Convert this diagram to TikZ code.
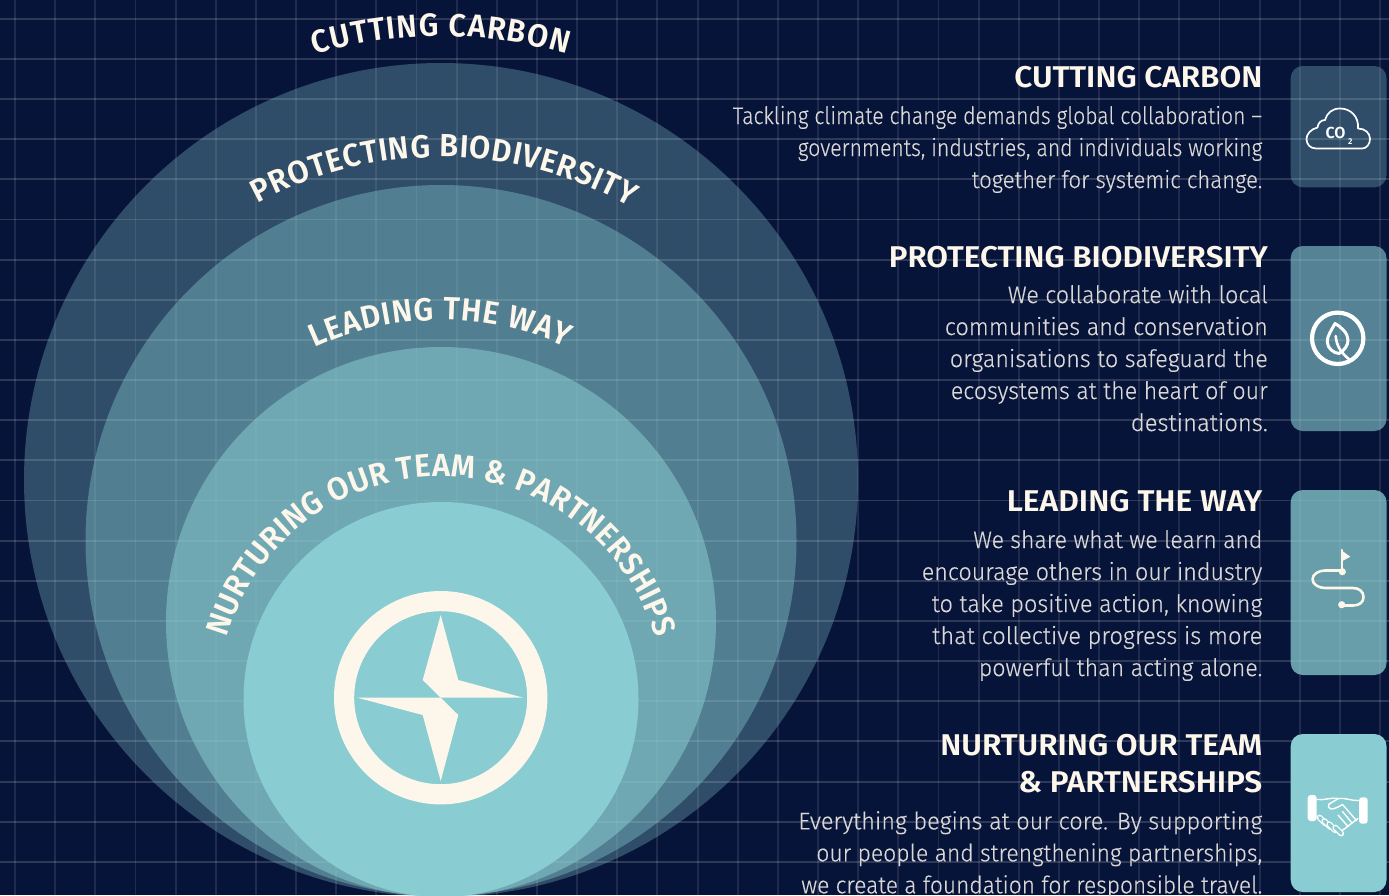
\documentclass[tikz,border=0pt]{standalone}
\usepackage{fontspec}
\usepackage{graphicx}
\usetikzlibrary{decorations.text}
\setmainfont{Fira Sans Light}[FakeBold=0.35]
\newfontfamily\headf{Fira Sans SemiBold}
\newfontfamily\arcf{Fira Sans SemiBold}[FakeStretch=0.96]
\newfontfamily\coflabel{Fira Sans SemiBold}
\definecolor{bg}{HTML}{071439}
\definecolor{cream}{HTML}{FDF6EB}
\definecolor{bodyc}{HTML}{DAD8D6}
\definecolor{teal}{HTML}{89CCD1}
\newsavebox\fitbox
\newcommand\fitw[2]{\sbox\fitbox{#2}\pgfmathsetmacro\fitr{#1/\the\wd\fitbox}\scalebox{\fitr}[1]{\usebox\fitbox}}
\tikzset{
  gridh/.style={white,opacity=.16,line width=1.9pt},
  gridv/.style={white,opacity=.10,line width=1.9pt},
  ringa/.style={fill=teal,fill opacity=.31},
  ringb/.style={fill=teal,fill opacity=.39},
  ringc/.style={fill=teal,fill opacity=.54},
  ringd/.style={fill=teal},
  panel/.style={rounded corners=12pt},
  headline/.style={anchor=base east,inner sep=0pt,text=cream,font=\headf\fontsize{30}{30}\selectfont},
  bodyline/.style={anchor=base east,inner sep=0pt,text=bodyc,font=\fontsize{24}{24}\selectfont},
  arclabel/.style={decorate},
  iconw/.style={draw=white,line cap=round,line join=round},
  iconc/.style={draw=cream,line cap=round,line join=round},
}
\begin{document}
\begin{tikzpicture}[x=1pt,y=-1pt]
\useasboundingbox (0,0) rectangle (1389,895);
\clip (0,0) rectangle (1389,895);
\fill[bg] (0,0) rectangle (1389,895);
% grid
\foreach \k in {0,...,34}{\draw[gridv] ({15+40.15*\k},0) -- ({15+40.15*\k},895);}
\foreach \k in {0,...,21}{\draw[gridh] (0,{18.7+40.15*\k}) -- (1389,{18.7+40.15*\k});}
% circles
\path[ringa] (441,480) circle[radius=417];
\path[ringb] (441,540.5) circle[radius=355.5];
\path[ringc] (441,622) circle[radius=275];
\path[ringd] (441,699.5) circle[radius=197.5];
% compass
\fill[cream,even odd rule] (440.7,697.7) circle[radius=106.7] (440.7,697.7) circle[radius=86.5];
\fill[cream] (440.7,615) -- (458.3,680) -- (523.3,697.7) -- (440.7,697.7) -- (422.7,680) -- cycle;
\fill[cream] (357.3,697.7) -- (440.7,697.7) -- (458.3,715) -- (440.7,781) -- (422.7,715) -- cycle;
% curved labels
\path[arclabel,decoration={text along path,text align=fit to path,text={|\arcf\fontsize{32}{32}\selectfont\color{cream}|CUTTING CARBON}}]
  (441,480) ++(-90-16.5:444) arc[start angle=-90-16.5,end angle=-90+16.5,radius=444];
\path[arclabel,decoration={text along path,text align=fit to path,text={|\arcf\fontsize{32}{32}\selectfont\color{cream}|PROTECTING BIODIVERSITY}}]
  (441,540.5) ++(-90-28.5:383.5) arc[start angle=-90-28.5,end angle=-90+29.5,radius=383.5];
\path[arclabel,decoration={text along path,text align=fit to path,text={|\arcf\fontsize{32}{32}\selectfont\color{cream}|LEADING THE WAY}}]
  (441,622) ++(-90-24.7:302) arc[start angle=-90-24.7,end angle=-90+24.5,radius=302];
\path[arclabel,decoration={text along path,text align=fit to path,text={|\arcf\fontsize{32}{32}\selectfont\color{cream}|NURTURING OUR TEAM {\&} PARTNERSHIPS}}]
  (441,699.5) ++(-90-74:223) arc[start angle=-90-74,end angle=-90+74,radius=223];
% panels
\path[ringa,panel] (1290.7,66) rectangle (1386.5,187.3);
\path[fill=teal,fill opacity=.60,panel] (1290.7,246) rectangle (1386.5,431);
\path[fill=teal,fill opacity=.75,panel] (1290.7,490) rectangle (1386.5,675);
\path[ringd,panel] (1290.7,734) rectangle (1386.5,892);
% text 1
\node[headline] (h1) at (1262.5,87.3) {\fitw{248}{CUTTING CARBON}};
\node[bodyline] (b11) at (1262.5,124) {\fitw{529.5}{Tackling climate change demands global collaboration –}};
\node[bodyline] (b12) at (1262.5,156) {\fitw{464.5}{governments, industries, and individuals working}};
\node[bodyline] (b13) at (1262.5,188) {\fitw{290.5}{together for systemic change.}};
% text 2
\node[headline] (h2) at (1268,267.7) {\fitw{379}{PROTECTING BIODIVERSITY}};
\node[bodyline] (b21) at (1268,303) {\fitw{260}{We collaborate with local}};
\node[bodyline] (b22) at (1268,335) {\fitw{323}{communities and conservation}};
\node[bodyline] (b23) at (1268,367) {\fitw{318}{organisations to safeguard the}};
\node[bodyline] (b24) at (1268,399) {\fitw{317}{ecosystems at the heart of our}};
\node[bodyline] (b25) at (1268,431) {\fitw{137}{destinations.}};
% text 3
\node[headline] (h3) at (1262.5,511.7) {\fitw{255.5}{LEADING THE WAY}};
\node[bodyline] (b31) at (1262.5,548) {\fitw{289}{We share what we learn and}};
\node[bodyline] (b32) at (1262.5,580) {\fitw{340.5}{encourage others in our industry}};
\node[bodyline] (b33) at (1262.5,612) {\fitw{330.5}{to take positive action, knowing}};
\node[bodyline] (b34) at (1262.5,644) {\fitw{330}{that collective progress is more}};
\node[bodyline] (b35) at (1262.5,676) {\fitw{283.5}{powerful than acting alone.}};
% text 4
\node[headline] (h4a) at (1262.5,755.3) {\fitw{322}{NURTURING OUR TEAM}};
\node[headline] (h4b) at (1262.5,792.7) {\fitw{244}{\& PARTNERSHIPS}};
\node[bodyline] (b41) at (1262.5,829.3) {\fitw{464}{Everything begins at our core. By supporting}};
\node[bodyline] (b42) at (1262.5,861.3) {\fitw{446}{our people and strengthening partnerships,}};
\node[bodyline] (b43) at (1262.5,893.3) {\fitw{461}{we create a foundation for responsible travel.}};
% cloud icon
\draw[iconw,line width=1.7pt] (1316,148.5) -- (1362,148.5)
  .. controls (1367,148.5) and (1370,143.5) .. (1370,139)
  .. controls (1370,133) and (1365,128.5) .. (1358,128.5)
  .. controls (1359,117) and (1351,108.5) .. (1340,108.5)
  .. controls (1332,108.5) and (1327,113) .. (1325,120)
  .. controls (1321,120) and (1318,123) .. (1317.5,127.5)
  .. controls (1311,129) and (1306.5,134) .. (1306.5,139)
  .. controls (1306.5,144) and (1310,148.5) .. (1316,148.5);
\node[anchor=base,inner sep=0pt,text=white,font=\coflabel\fontsize{16}{16}\selectfont] (co) at (1335.5,138.5) {\fitw{20}{CO}};
\node[anchor=base,inner sep=0pt,text=white,font=\coflabel\fontsize{8.5}{8.5}\selectfont] (two) at (1350.3,144) {2};
% leaf icon
\draw[white,line width=4.2pt] (1337.7,338.3) circle[radius=25.7];
\draw[iconw,line width=3pt] (1335,323.5)
  .. controls (1331,331) and (1327,336) .. (1327.3,342)
  .. controls (1327.5,348) and (1333,353) .. (1339,353.5)
  .. controls (1345,350) and (1348,345) .. (1348,340)
  .. controls (1348,333) and (1341,327) .. (1335,323.5) -- cycle;
\draw[iconw,line width=2.6pt] (1335.7,336) .. controls (1336.5,346) and (1341,353) .. (1350,360);
% route icon
\fill[cream] (1341,550) -- (1350.3,556.7) -- (1342.5,561) -- cycle;
\draw[iconc,line width=2.2pt] (1341.7,550) -- (1341.7,571.7);
\fill[cream] (1342.3,571.7) circle[radius=3.6];
\fill[cream] (1341.7,604.7) circle[radius=3.6];
\draw[iconc,line width=2.6pt] (1342.3,570.5) -- (1325,570.5)
  .. controls (1319,570.5) and (1312.5,574) .. (1312.5,579.2)
  .. controls (1312.5,584.5) and (1319,588) .. (1325,588)
  -- (1353,588)
  .. controls (1359,588) and (1363.5,591.5) .. (1363.5,597)
  .. controls (1363.5,602.5) and (1359,605.5) .. (1353,605.5)
  -- (1341.7,605.5);
% handshake icon
\fill[white,rounded corners=3pt] (1307.7,795) rectangle (1316.7,821);
\fill[white,rounded corners=3pt] (1359,797.3) rectangle (1367.7,823.7);
\draw[iconw,line width=1.4pt] (1317,799.5) .. controls (1324,800.5) and (1332,797) .. (1338.5,798.5)
  .. controls (1345,797.5) and (1352,801) .. (1358.5,800.5);
\draw[iconw,line width=1.4pt] (1338.5,798.5) -- (1329,804) .. controls (1327.5,806) and (1328.5,809) .. (1331,809)
  .. controls (1335,809) and (1339,806.5) .. (1342.5,804.5) -- (1356.5,820.5);
\draw[iconw,line width=1.4pt] (1317.5,818) -- (1320.5,816.5);
\draw[iconw,line width=1.4pt] (1358,818.5) -- (1352,823) -- (1345,828.5) -- (1341,831);
\draw[iconw,line width=1.4pt] (1338,815) -- (1348,826.5);
\draw[iconw,line width=1.4pt] (1342.5,811.5) -- (1352,823);
\foreach \cx/\cy in {1322.5/820.5,1327.3/824,1332.3/827.3,1338.3/830.5}{
  \draw[white,line width=5.8pt,line cap=round] ({\cx-3},{\cy-3}) -- ({\cx+3},{\cy+3});
  \draw[teal,line width=3.2pt,line cap=round] ({\cx-3},{\cy-3}) -- ({\cx+3},{\cy+3});
}
\end{tikzpicture}
\end{document}
